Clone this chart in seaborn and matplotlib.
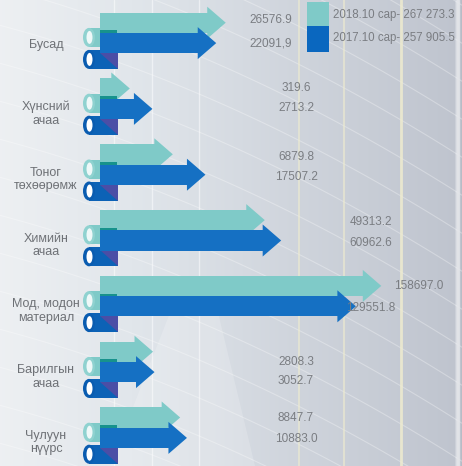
import numpy as np
import pandas as pd
import seaborn as sns
import matplotlib.pyplot as plt
from matplotlib.patches import Polygon, Rectangle, Ellipse

categories = ["Бусад", "Хүнсний\nачаа", "Тоног\nтөхөөрөмж", "Химийн\nачаа",
              "Мод, модон\nматериал", "Барилгын\nачаа", "Чулуун\nнүүрс"]
series = ["2018.10 сар- 267 273.3", "2017.10 сар- 257 905.5"]
values_2018 = [26576.9, 319.6, 6879.8, 49313.2, 158697.0, 2808.3, 8847.7]
values_2017 = [22091.9, 2713.2, 17507.2, 60962.6, 129551.8, 3052.7, 10883.0]
labels_2018 = ["26576.9", "319.6", "6879.8", "49313.2", "158697.0", "2808.3", "8847.7"]
labels_2017 = ["22091,9", "2713.2", "17507.2", "60962.6", "129551.8", "3052.7", "10883.0"]

# label placement in pixels (layout only)
lab_x_2018 = [271, 296, 296, 371, 419, 296, 296]
lab_x_2017 = [271, 296, 296, 371, 371, 296, 296]
lab_y_2018 = [20, 88, 157, 222, 286, 362, 418]
lab_y_2017 = [43, 108, 177, 243, 308, 381, 439]

teal = "#7fcac8"
blue = "#1570c3"
grey = "#6e7176"

sns.set_theme(style="white")
plt.rcParams["font.family"] = ["Liberation Sans", "DejaVu Sans"]

fig = plt.figure(figsize=(4.62, 4.66), dpi=100)
ax_bg = fig.add_axes([0, 0, 1, 1])
ax_bg.set_xlim(0, 462)
ax_bg.set_ylim(466, 0)
ax_bg.axis("off")

# background gradient
xs = np.linspace(0, 1, 462)
stops = np.array([0.0, 0.3, 0.6, 0.985, 0.99, 1.0])
cols = np.array([[0.93, 0.94, 0.95], [0.88, 0.90, 0.92], [0.82, 0.84, 0.87],
                 [0.75, 0.77, 0.81], [0.88, 0.89, 0.91], [0.72, 0.74, 0.78]])
row = np.stack([np.interp(xs, stops, cols[:, c]) for c in range(3)], axis=-1)
img = np.repeat(row[None, :, :], 466, axis=0)
ax_bg.imshow(img, extent=(0, 462, 466, 0), aspect="auto", zorder=0)

# faint diagonal streaks
for c in range(-300, 500, 38):
    xx = np.linspace(0, 462, 100)
    yy = c + 0.45 * xx + 0.0004 * (xx - 231) ** 2
    ax_bg.plot(xx, yy, color="white", lw=0.8, alpha=0.3, zorder=0.5)
ax_bg.add_patch(Polygon([(110, 466), (255, 466), (215, 300), (175, 300)],
                        closed=True, color="white", alpha=0.18, lw=0, zorder=0.5))

# decorative vertical lines
for x, c, a, w in [(114, "white", 0.5, 1), (152, "white", 0.5, 1), (199, "white", 0.5, 1),
                   (299, "#efeccf", 0.6, 1.5), (344, "#efeccf", 0.6, 1.5),
                   (401, "#efeccf", 0.85, 2), (458, "#e3e5e9", 0.9, 2)]:
    ax_bg.axvline(x, color=c, alpha=a, lw=w, zorder=0.6)

# bars
ax = fig.add_axes([100 / 462, (466 - 460.6) / 466, 362 / 462, 460.6 / 466])
ax.set_zorder(2)
ax.patch.set_alpha(0)

df = pd.DataFrame({
    "category": categories * 2,
    "series": [series[0]] * len(categories) + [series[1]] * len(categories),
    "value": values_2018 + values_2017,
})
sns.barplot(data=df, x="value", y="category", hue="series", orient="h",
            palette=[teal, blue], width=0.62, saturation=1, linewidth=0,
            legend=False, ax=ax)

ax.set_xscale("function", functions=(lambda v: np.sqrt(np.clip(v, 0, None)),
                                     lambda v: np.square(v)))
ax.set_xlim(0, 300000)
ax.set_ylim(6.5, -0.5)
ax.axis("off")

to_px = ax.transData + ax_bg.transData.inverted()
for k, cont in enumerate(ax.containers):
    col = teal if k == 0 else blue
    for bar in cont:
        bar.set_zorder(1 if k == 0 else 3)
        v = bar.get_x() + bar.get_width()
        yc = bar.get_y() + bar.get_height() / 2
        px, py = to_px.transform((v, yc))
        head = Polygon([(px - 0.5, py - 16), (px + 18, py), (px - 0.5, py + 16)],
                       closed=True, color=col, lw=0, clip_on=False,
                       transform=ax_bg.transData, zorder=1.5 if k == 0 else 3)
        ax.add_patch(head)

# pipes, shadows and labels for each group
for i, cat in enumerate(categories):
    b = to_px.transform((0, i))[1]
    # light pipe
    ax_bg.add_patch(Rectangle((89, b - 5), 29, 19, color=teal, lw=0, zorder=1))
    ax_bg.add_patch(Ellipse((89, b + 4.5), 12, 19, color="#8fd2d0", lw=0, zorder=1.1))
    ax_bg.add_patch(Ellipse((89.5, b + 4.5), 6, 13, color="#eef8f8", lw=0, zorder=1.2))
    # dark pipe
    ax_bg.add_patch(Rectangle((89, b + 17), 29, 19, color="#0c62b6", lw=0, zorder=1))
    ax_bg.add_patch(Ellipse((89, b + 26.5), 12, 19, color="#0a5cb0", lw=0, zorder=1.1))
    ax_bg.add_patch(Ellipse((89.5, b + 26.5), 6, 13, color="white", lw=0, zorder=1.2))
    ax_bg.add_patch(Polygon([(100, b + 20), (118, b + 20), (118, b + 36)], closed=True,
                            color="#4b4ea6", lw=0, zorder=1.3))
    ax.add_patch(Rectangle((100, b - 2.5), 17, 2.5, color="#17928c", lw=0,
                           transform=ax_bg.transData, clip_on=False, zorder=2))
    # category label
    dy = 12 if "\n" not in cat else 15
    ax_bg.text(46, b + dy, cat, ha="center", va="center", fontsize=9,
               color=grey, linespacing=1.15, zorder=2)

# value labels drawn above the arrows
for i in range(len(categories)):
    ax.text(lab_x_2018[i], lab_y_2018[i], labels_2018[i], ha="center", va="center",
            fontsize=8.5, color="#7a7d82", zorder=5, transform=ax_bg.transData, clip_on=False)
    ax.text(lab_x_2017[i], lab_y_2017[i], labels_2017[i], ha="center", va="center",
            fontsize=8.5, color="#7a7d82", zorder=5, transform=ax_bg.transData, clip_on=False)

# legend
ax_bg.add_patch(Rectangle((307, 2), 22, 24, color=teal, lw=0, zorder=2))
ax_bg.add_patch(Rectangle((307, 26), 22, 26, color="#0a67bf", lw=0, zorder=2))
ax_bg.text(333, 15, series[0], ha="left", va="center", fontsize=8.3, color="#7a7d82", zorder=2)
ax_bg.text(333, 38, series[1], ha="left", va="center", fontsize=8.3, color="#7a7d82", zorder=2)

fig.savefig("out.png", dpi=100)
